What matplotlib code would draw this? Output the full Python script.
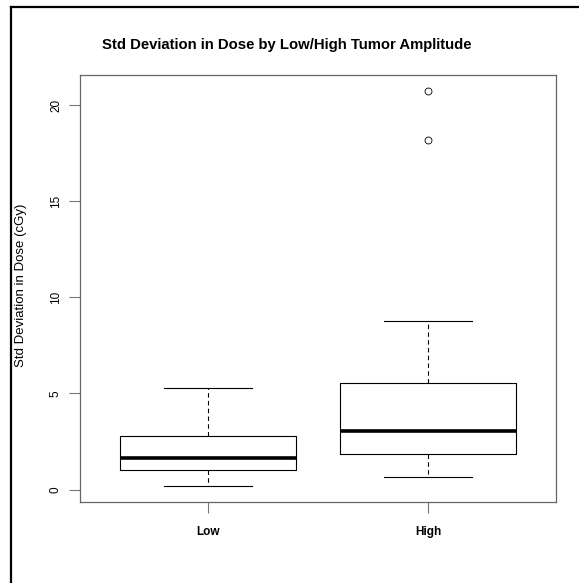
import numpy as np
import matplotlib.pyplot as plt
from matplotlib.lines import Line2D

plt.rcParams['font.family'] = ['Liberation Sans', 'DejaVu Sans']

groups = ['Low', 'High']
# five-number summaries (cGy)
whislo = [0.18, 0.64]
q1 = [1.02, 1.84]
med = [1.65, 3.05]
q3 = [2.81, 5.55]
whishi = [5.27, 8.78]
fliers = [[], [18.18, 20.74]]
yticks = [0, 5, 10, 15, 20]

stats = []
for i, g in enumerate(groups):
    stats.append(dict(label=g, whislo=whislo[i], q1=q1[i], med=med[i],
                      q3=q3[i], whishi=whishi[i], fliers=fliers[i]))

fig = plt.figure(figsize=(5.79, 5.83), dpi=100)
ax = fig.add_axes([80 / 579, 1 - 502 / 583, 476 / 579, 427 / 583])

lw = 0.8
ax.bxp(stats, positions=[1, 2], widths=0.8, showfliers=True,
       boxprops=dict(color='black', linewidth=lw),
       medianprops=dict(color='black', linewidth=2.6, solid_capstyle='butt'),
       whiskerprops=dict(color='black', linewidth=lw, linestyle=(0, (4, 3))),
       capprops=dict(color='black', linewidth=lw),
       capwidths=0.4,
       flierprops=dict(marker='o', markersize=5, markerfacecolor='none',
                       markeredgecolor='black', markeredgewidth=0.6))

# R style extended limits
lo = min(whislo + [v for f in fliers for v in f])
hi = max(whishi + [v for f in fliers for v in f])
pad = 0.04 * (hi - lo)
ax.set_ylim(lo - pad, hi + pad)
ax.set_xlim(0.5 - 0.08, 2.5 + 0.08)

ax.set_yticks(yticks)
ax.set_yticklabels([str(t) for t in yticks], rotation=90, va='center', fontsize=8.5)
ax.set_xticks([1, 2])
ax.set_xticklabels(groups, fontsize=8.5, fontweight='bold')
ax.tick_params(axis='both', length=8, width=0.8, color='#777777', pad=5)
ax.tick_params(axis='x', pad=9)
for s in ax.spines.values():
    s.set_color('#666666')
    s.set_linewidth(0.9)

fig.text(21 / 579, 1 - 285 / 583, 'Std Deviation in Dose (cGy)', rotation=90,
         ha='center', va='center', fontsize=9.5)

fig.text(287 / 579, 1 - 45 / 583, 'Std Deviation in Dose by Low/High Tumor Amplitude',
         ha='center', va='center', fontsize=10.7, fontweight='bold')

# outer frame
fig.add_artist(Line2D([11 / 579, 11 / 579], [1 - 7 / 583, 0], color='black', lw=1.6))
fig.add_artist(Line2D([11 / 579, 1], [1 - 7 / 583, 1 - 7 / 583], color='black', lw=1.6))

fig.savefig('out.png', dpi=100)
